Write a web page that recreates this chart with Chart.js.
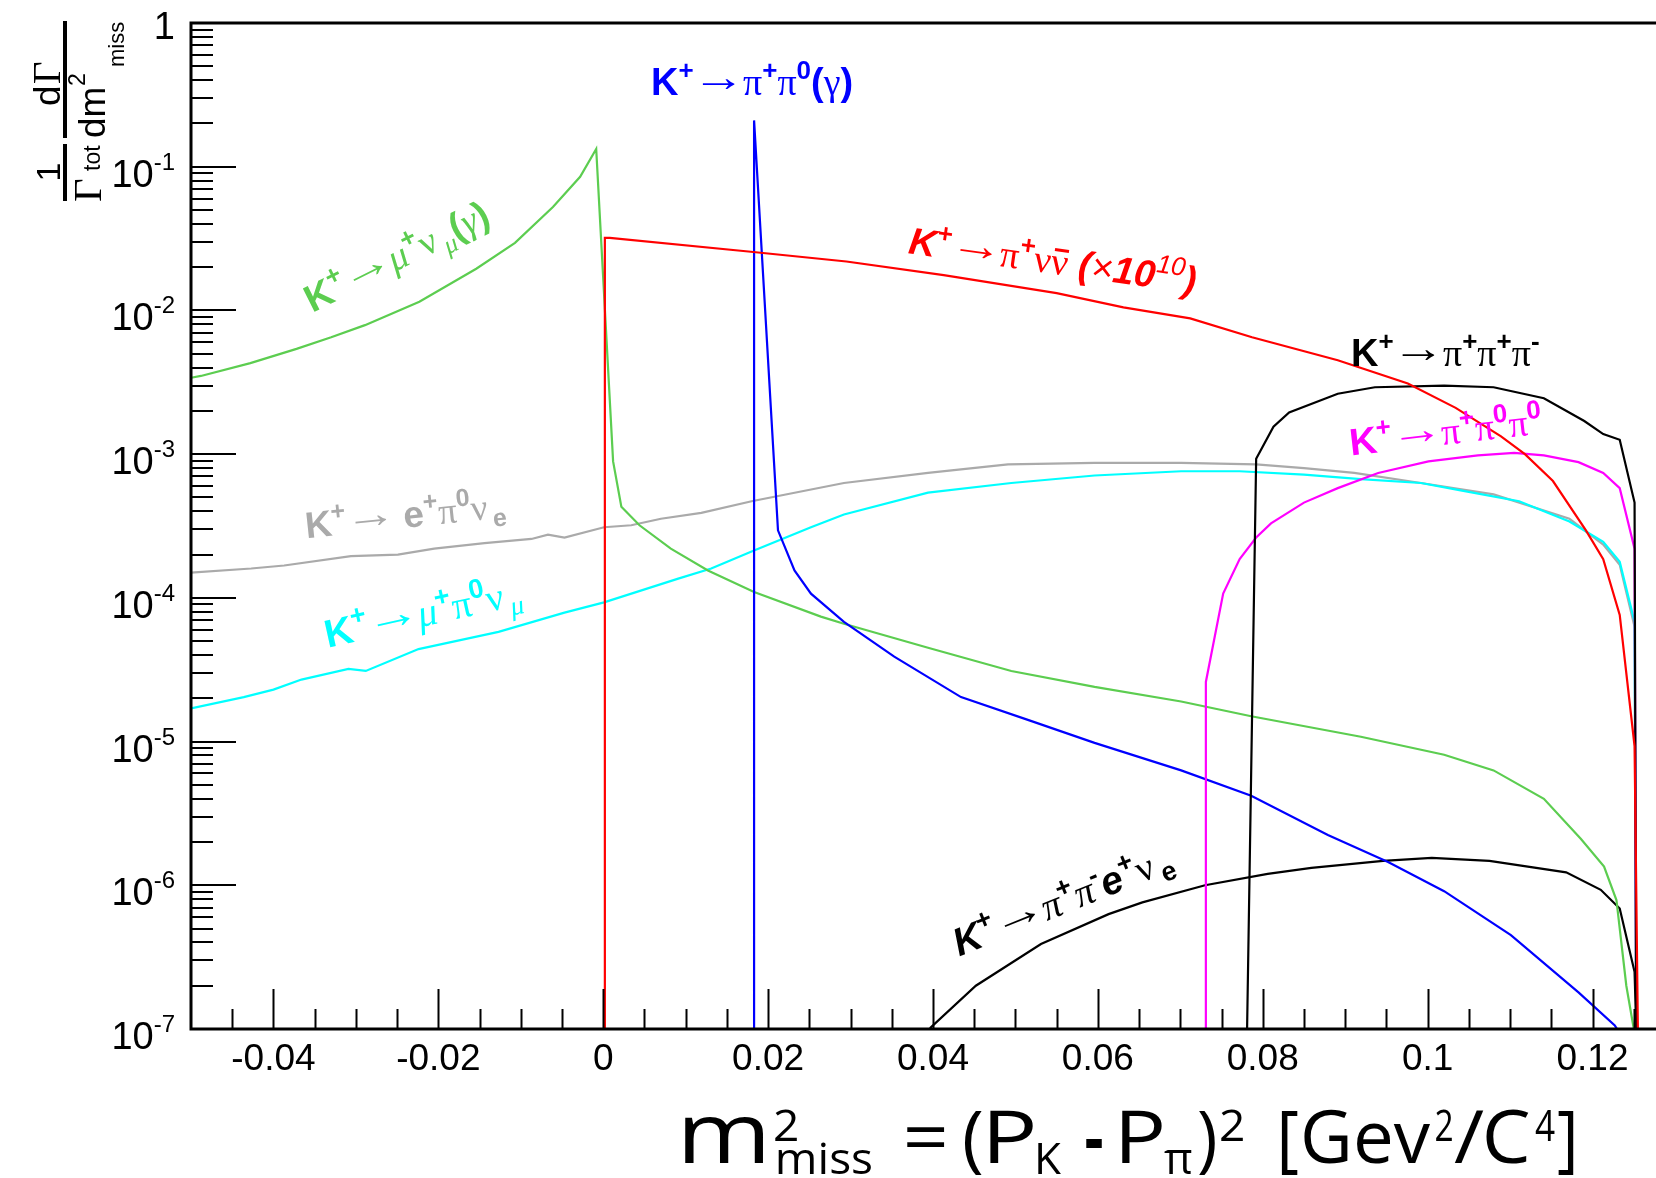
<!DOCTYPE html>
<html>
<head>
<meta charset="utf-8">
<script src="https://cdn.jsdelivr.net/npm/chart.js@4.4.1/dist/chart.umd.min.js"></script>
<style>
  html, body { margin: 0; padding: 0; background: #fff; }
  canvas { display: block; }
</style>
</head>
<body>
<canvas id="chart" width="1656" height="1178"></canvas>
<script>
const ctx = document.getElementById('chart');

// m2miss (GeV2/c4) and 1/Gtot dG/dm2; 1e-7 = bottom of the frame
const muNuX = [-0.05, -0.0488, -0.0428, -0.0372, -0.033, -0.0289, -0.0223, -0.0154, -0.0107, -0.0061, -0.0028, -0.00085,
  0.0012, 0.0022, 0.0044, 0.0082, 0.0127, 0.0183, 0.0264, 0.0292, 0.0394, 0.0495, 0.0596, 0.0701, 0.0786, 0.0919,
  0.102, 0.108, 0.1141, 0.1186, 0.1214, 0.1229, 0.1241, 0.1253];
const muNuY = [3.4e-3, 3.5e-3, 4.3e-3, 5.4e-3, 6.5e-3, 7.9e-3, 1.15e-2, 1.95e-2, 2.95e-2, 5.25e-2, 8.5e-2, 0.133,
  8.9e-4, 4.3e-4, 3.2e-4, 2.2e-4, 1.55e-4, 1.1e-4, 7.4e-5, 6.6e-5, 4.5e-5, 3.1e-5, 2.4e-5, 1.9e-5, 1.5e-5, 1.08e-5,
  8.1e-6, 6.3e-6, 4.0e-6, 2.1e-6, 1.35e-6, 7.9e-7, 2.0e-7, 8e-8];

const piNuNuX = [0.0001, 0.0002, 0.0008, 0.0176, 0.0295, 0.0413, 0.055, 0.0631, 0.0712, 0.0787, 0.0891, 0.0976,
  0.1034, 0.1089, 0.1118, 0.1152, 0.1192, 0.1213, 0.1233, 0.1251, 0.1255];
const piNuNuY = [1e-7, 3.2e-2, 3.2e-2, 2.57e-2, 2.19e-2, 1.76e-2, 1.32e-2, 1.05e-2, 8.8e-3, 6.5e-3, 4.5e-3, 3.1e-3,
  2.1e-3, 1.33e-3, 1.0e-3, 6.5e-4, 2.95e-4, 1.86e-4, 7.6e-5, 9.3e-6, 1e-7];

const piPi0X = [0.0183, 0.0183, 0.0212, 0.0232, 0.0252, 0.0292, 0.0353, 0.0434, 0.0516, 0.0596, 0.0701, 0.0786,
  0.0879, 0.0952, 0.102, 0.1101, 0.1183, 0.1227, 0.1240];
const piPi0Y = [1e-7, 0.21, 2.95e-4, 1.55e-4, 1.07e-4, 6.8e-5, 3.9e-5, 2.04e-5, 1.41e-5, 9.8e-6, 6.3e-6, 4.2e-6,
  2.24e-6, 1.45e-6, 9.1e-7, 4.5e-7, 1.8e-7, 1.06e-7, 8e-8];

const muPi0NuX = [-0.05, -0.0436, -0.04, -0.0366, -0.0309, -0.0288, -0.0224, -0.0127, -0.0047, 0.0001, 0.0091, 0.0131,
  0.018, 0.0252, 0.0292, 0.0394, 0.0495, 0.0596, 0.0701, 0.0772, 0.085, 0.0919, 0.0992, 0.104, 0.1111, 0.1172,
  0.1213, 0.1233, 0.1251, 0.1253];
const muPi0NuY = [1.7e-5, 2.04e-5, 2.3e-5, 2.7e-5, 3.2e-5, 3.1e-5, 4.4e-5, 5.8e-5, 7.9e-5, 9.3e-5, 1.36e-4, 1.6e-4,
  2.1e-4, 3.1e-4, 3.8e-4, 5.4e-4, 6.3e-4, 7.1e-4, 7.6e-4, 7.6e-4, 7.2e-4, 6.7e-4, 6.3e-4, 5.6e-4, 4.7e-4, 3.4e-4,
  2.45e-4, 1.78e-4, 6.8e-5, 1e-7];

const ePi0NuX = [-0.05, -0.0427, -0.0387, -0.0306, -0.0249, -0.0205, -0.0144, -0.0087, -0.0067, -0.0047, 0.0001, 0.0034,
  0.007, 0.0119, 0.018, 0.0292, 0.0394, 0.0491, 0.0596, 0.0701, 0.0792, 0.085, 0.0911, 0.0992, 0.108, 0.1172,
  0.1213, 0.1233, 0.1251, 0.1253];
const ePi0NuY = [1.5e-4, 1.6e-4, 1.68e-4, 1.95e-4, 2.0e-4, 2.2e-4, 2.4e-4, 2.57e-4, 2.75e-4, 2.63e-4, 3.1e-4, 3.2e-4,
  3.55e-4, 3.9e-4, 4.7e-4, 6.3e-4, 7.4e-4, 8.5e-4, 8.7e-4, 8.7e-4, 8.5e-4, 8.0e-4, 7.4e-4, 6.3e-4, 5.25e-4, 3.55e-4,
  2.35e-4, 1.7e-4, 6.3e-5, 1e-7];

const pi3X = [0.0781, 0.0792, 0.0813, 0.0832, 0.0891, 0.0936, 0.102, 0.108, 0.1141, 0.119, 0.1213, 0.1233, 0.1251, 0.1253];
const pi3Y = [1e-7, 9.3e-4, 1.55e-3, 1.95e-3, 2.63e-3, 2.92e-3, 3.0e-3, 2.92e-3, 2.45e-3, 1.7e-3, 1.38e-3, 1.26e-3, 4.6e-4, 1e-7];

const pi2pi0X = [0.0730, 0.0731, 0.0752, 0.0772, 0.0792, 0.081, 0.085, 0.0891, 0.094, 0.1001, 0.1061, 0.1105,
  0.1141, 0.1183, 0.1213, 0.1233, 0.1251, 0.1253];
const pi2pi0Y = [1e-7, 2.6e-5, 1.07e-4, 1.86e-4, 2.63e-4, 3.3e-4, 4.6e-4, 5.8e-4, 7.4e-4, 8.9e-4, 9.8e-4, 1.02e-3,
  9.8e-4, 8.8e-4, 7.4e-4, 5.8e-4, 2.2e-4, 1e-7];

const ke4X = [0.0385, 0.0397, 0.0452, 0.0531, 0.0613, 0.0654, 0.073, 0.0806, 0.0859, 0.0946, 0.1005, 0.1075,
  0.1168, 0.121, 0.1233, 0.1251, 0.1253];
const ke4Y = [7e-8, 1.02e-7, 2.0e-7, 3.9e-7, 6.3e-7, 7.6e-7, 1.0e-6, 1.2e-6, 1.32e-6, 1.48e-6, 1.55e-6, 1.48e-6,
  1.23e-6, 9.3e-7, 6.9e-7, 2.5e-7, 1e-7];

const xTicks = [-0.04, -0.02, 0, 0.02, 0.04, 0.06, 0.08, 0.1, 0.12];
const xTickLabels = ['-0.04', '-0.02', '0', '0.02', '0.04', '0.06', '0.08', '0.1', '0.12'];
const yDecades = [0, -1, -2, -3, -4, -5, -6, -7];

const xMin = -0.05, xMax = 0.1277, yMin = 1e-7, yMax = 1;

const SANS = '"Liberation Sans", Arial, sans-serif';
const SERIF = '"Liberation Serif", "DejaVu Serif", serif';
const GREEN = '#5ccd50';

function pts(xs, ys) { return xs.map((x, i) => ({ x: x, y: ys[i] })); }

// first dataset is drawn on top
const datasets = [
  { data: pts(piNuNuX, piNuNuY), borderColor: '#ff0000' },
  { data: pts(pi3X, pi3Y), borderColor: '#000000' },
  { data: pts(pi2pi0X, pi2pi0Y), borderColor: '#ff00ff' },
  { data: pts(piPi0X, piPi0Y), borderColor: '#0000ff' },
  { data: pts(muNuX, muNuY), borderColor: GREEN },
  { data: pts(ke4X, ke4Y), borderColor: '#000000' },
  { data: pts(muPi0NuX, muPi0NuY), borderColor: '#00ffff' },
  { data: pts(ePi0NuX, ePi0NuY), borderColor: '#aaaaaa' }
];

// curve names: runs of [text, font, position]; 'A' = long arrow
const decayLabels = [
  { at: [0.0058, 0.315], angle: 0, size: 38, color: '#0000ff',
    runs: [['K','B'],['+','B','^'],['→','A'],['π','S'],['+','B','^'],['π','S'],['0','B','^'],['(','B'],['γ','S'],[')','B']] },
  { at: [-0.0353, 9.6e-3], angle: -26.5, size: 38, color: GREEN,
    runs: [['K','B'],['+','B','^'],['→','A'],['μ','SI'],['+','B','^'],['ν','S'],['μ','SI','_'],['(','B'],['γ','SI'],[')','B']] },
  { at: [0.0369, 2.5e-2], angle: 8, size: 38, color: '#ff0000',
    runs: [['K','BI'],['+','B','^'],['→','A'],['π','S'],['+','B','^'],['ν','S'],['ν','S','bar'],[' (','BI'],['×','I'],['10','BI'],['10','I','^'],[')','BI']] },
  { at: [0.0907, 4.1e-3], angle: 0, size: 38, color: '#000000',
    runs: [['K','B'],['+','B','^'],['→','A'],['π','S'],['+','B','^'],['π','S'],['+','B','^'],['π','S'],['-','B','^']] },
  { at: [0.0907, 9.8e-4], angle: -6.5, size: 38, color: '#ff00ff',
    runs: [['K','B'],['+','B','^'],['→','A'],['π','S'],['+','B','^'],['π','S'],['0','B','^'],['π','S'],['0','B','^']] },
  { at: [-0.036, 2.6e-4], angle: -6, size: 37, color: '#aaaaaa',
    runs: [['K','B'],['+','B','^'],['→','A'],[' ','S'],['e','B'],['+','B','^'],['π','S'],['0','B','^'],['ν','S'],['e','B','_']] },
  { at: [-0.0334, 4.5e-5], angle: -12.5, size: 39, color: '#00ffff',
    runs: [['K','B'],['+','B','^'],['→','A'],['μ','SI'],['+','B','^'],['π','S'],['0','B','^'],['ν','S'],['μ','SI','_']] },
  { at: [0.0432, 3.2e-7], angle: -22, size: 39, color: '#000000',
    runs: [['K','BI'],['+','B','^'],['→','A'],['π','SI'],['+','B','^'],['π','SI'],['-','B','^'],['e','BI'],['+','B','^'],['ν','S'],['e','B','_']] }
];

function runFont(kind, size) {
  if (kind === 'B') return 'bold ' + size + 'px ' + SANS;
  if (kind === 'BI') return 'italic bold ' + size + 'px ' + SANS;
  if (kind === 'I') return 'italic ' + size + 'px ' + SANS;
  if (kind === 'SI') return 'italic ' + size + 'px ' + SERIF;
  return size + 'px ' + SERIF;
}

function drawRuns(c, runs, x, y, angle, size, color) {
  c.save();
  c.translate(x, y);
  c.rotate(angle * Math.PI / 180);
  c.fillStyle = color;
  c.strokeStyle = color;
  c.textBaseline = 'alphabetic';
  c.textAlign = 'left';
  let cx = 0;
  runs.forEach(r => {
    const pos = r[2] || '';
    const small = pos === '^' || pos === '_';
    const s = small ? Math.round(size * 0.68) : size;
    const dy = pos === '^' ? -size * 0.42 : pos === '_' ? size * 0.22 : 0;
    if (pos === '_') cx += size * 0.12;
    c.font = runFont(r[1], s);
    let w = c.measureText(r[0]).width;
    if (r[1] === 'A') {
      // Symbol-style long arrow, lifted to mid cap height
      const stretch = 1.4;
      c.save();
      c.translate(cx - size * 0.04, -size * 0.1);
      c.scale(stretch, 1.1);
      c.fillText(r[0], 0, 0);
      c.restore();
      w = w * stretch - size * 0.1;
    } else {
      c.fillText(r[0], cx, dy);
    }
    if (pos === 'bar') {
      c.lineWidth = 3;
      c.beginPath();
      c.moveTo(cx + 2, -size * 0.64);
      c.lineTo(cx + w - 1, -size * 0.64);
      c.stroke();
    }
    cx += w;
  });
  c.restore();
}

function drawYTitle(c) {
  c.save();
  c.rotate(-Math.PI / 2);   // local x = up the page, local y = to the right
  c.fillStyle = '#000';
  c.textBaseline = 'alphabetic';
  c.textAlign = 'center';
  c.font = '34px ' + SANS;
  c.fillText('1', -172, 60);
  c.fillRect(-201, 63, 57, 4);
  c.textAlign = 'left';
  c.font = '41px ' + SERIF;
  c.fillText('Γ', -202, 101);
  c.font = '23px ' + SANS;
  c.fillText('tot', -171, 100);
  c.fillRect(-138, 63, 117, 4);
  c.font = '37px ' + SANS;
  c.fillText('d', -106, 60);
  c.font = '39px ' + SERIF;
  c.fillText('Γ', -84, 60);
  c.font = '37px ' + SANS;
  c.fillText('dm', -138, 105);
  c.font = '23px ' + SANS;
  c.fillText('2', -86, 85);
  c.font = '22px ' + SANS;
  c.fillText('miss', -67, 124);
  c.restore();
}

// x title pieces: text, ink left, ink right, kind
const xTitleRuns = [
  ['m', 685, 763, 'm'], ['2', 775, 797, '^'], ['miss', 778, 871, '_'], ['=', 907, 945, 'n'],
  ['(', 964, 982, 'n'], ['P', 990, 1033, 'n'], ['K', 1038, 1061, '_'], ['-', 1086, 1102, 'b'],
  ['P', 1122, 1162, 'n'], ['π', 1164, 1192, '_'], [')', 1199, 1215, 'n'], ['2', 1221, 1243, '^'],
  ['[', 1282, 1298, 'n'], ['Gev', 1304, 1430, 'n'], ['2', 1436, 1452, '^'], ['/', 1454, 1484, 'n'],
  ['C', 1486, 1529, 'n'], ['4', 1535, 1555, '^'], [']', 1558, 1574, 'n']
];

function drawXTitle(c) {
  c.save();
  c.fillStyle = '#000';
  c.textBaseline = 'alphabetic';
  c.textAlign = 'left';
  xTitleRuns.forEach(r => {
    const kind = r[3];
    const size = (kind === '^' || kind === '_') ? 44 : kind === 'm' ? 84 : 74;
    const base = kind === '^' ? 1141 : kind === '_' ? 1174 : 1163;
    c.font = (kind === 'b' ? 'bold ' : '') + size + 'px "Open Sans", "Noto Sans", sans-serif';
    const m = c.measureText(r[0]);
    const ink = m.actualBoundingBoxLeft + m.actualBoundingBoxRight;
    const sx = (r[2] - r[1]) / ink;
    c.save();
    c.translate(r[1], base);
    c.scale(sx, 1);
    c.fillText(r[0], m.actualBoundingBoxLeft, 0);
    c.restore();
  });
  c.restore();
}

const framePlugin = {
  id: 'rootFrame',
  afterDraw(chart) {
    const c = chart.ctx;
    const a = chart.chartArea;
    const x = chart.scales.x, y = chart.scales.y;
    c.save();
    c.strokeStyle = '#000';
    c.lineWidth = 3;
    c.beginPath();
    c.moveTo(a.right, a.top);
    c.lineTo(a.left, a.top);
    c.lineTo(a.left, a.bottom);
    c.lineTo(a.right, a.bottom);
    c.stroke();

    c.lineWidth = 2;
    c.beginPath();
    for (let k = -9; k <= 25; k++) {
      const px = Math.round(x.getPixelForValue(k * 0.005)) + 0.5;
      const len = k % 4 === 0 ? 40 : 20;
      c.moveTo(px, a.bottom);
      c.lineTo(px, a.bottom - len);
    }
    yDecades.forEach(e => {
      const py = Math.round(y.getPixelForValue(Math.pow(10, e)));
      c.moveTo(a.left, py);
      c.lineTo(a.left + 45, py);
      if (e < 0) {
        for (let m = 2; m <= 9; m++) {
          const pm = Math.round(y.getPixelForValue(m * Math.pow(10, e)));
          c.moveTo(a.left, pm);
          c.lineTo(a.left + 22, pm);
        }
      }
    });
    c.stroke();

    c.fillStyle = '#000';
    c.textBaseline = 'alphabetic';
    c.font = '37px ' + SANS;
    c.textAlign = 'center';
    xTicks.forEach((v, i) => c.fillText(xTickLabels[i], x.getPixelForValue(v), 1070));

    c.textAlign = 'right';
    const right = 175;
    yDecades.forEach(e => {
      const py = y.getPixelForValue(Math.pow(10, e));
      if (e === 0) {
        c.font = '38px ' + SANS;
        c.fillText('1', right, py + 16);
        return;
      }
      c.font = '24px ' + SANS;
      const sup = String(e);
      c.fillText(sup, right, py + 3);
      const w = c.measureText(sup).width;
      c.font = '38px ' + SANS;
      c.fillText('10', right - w, py + 20);
    });
    c.restore();

    drawYTitle(c);
    drawXTitle(c);
  }
};

const labelPlugin = {
  id: 'decayLabels',
  afterDatasetsDraw(chart) {
    const x = chart.scales.x, y = chart.scales.y;
    decayLabels.forEach(l => drawRuns(chart.ctx, l.runs, x.getPixelForValue(l.at[0]),
      y.getPixelForValue(l.at[1]), l.angle, l.size, l.color));
  }
};

new Chart(ctx, {
  type: 'line',
  data: { datasets: datasets },
  options: {
    responsive: false,
    animation: false,
    layout: { padding: { left: 191, top: 23, right: 0, bottom: 149 } },
    plugins: { legend: { display: false }, tooltip: { enabled: false } },
    elements: {
      point: { radius: 0 },
      line: { borderWidth: 2.2, tension: 0, fill: false }
    },
    scales: {
      x: { type: 'linear', min: xMin, max: xMax, display: false },
      y: { type: 'logarithmic', min: yMin, max: yMax, display: false }
    }
  },
  plugins: [framePlugin, labelPlugin]
});
</script>
</body>
</html>
